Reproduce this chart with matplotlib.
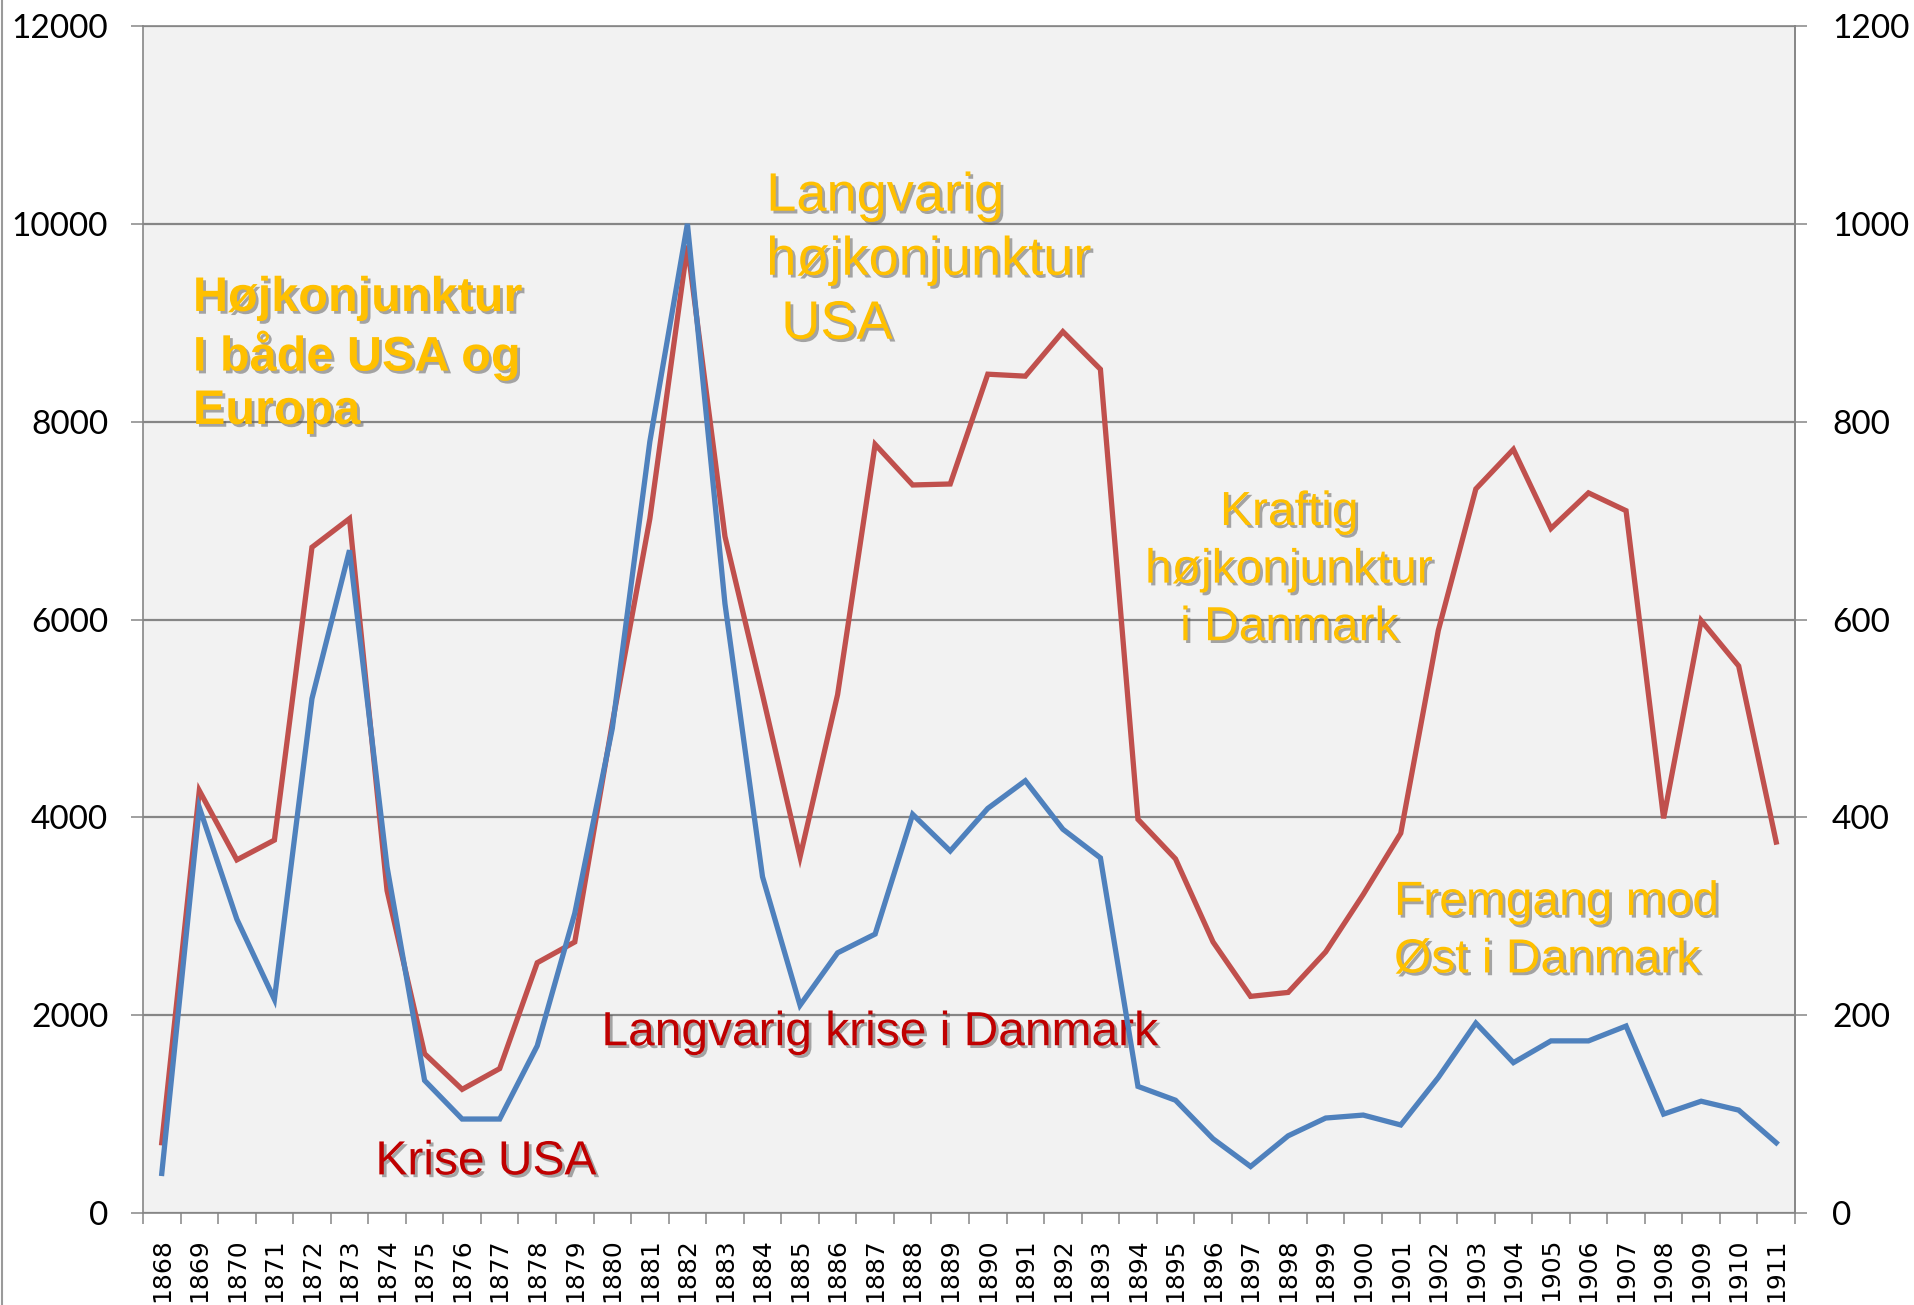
import matplotlib
matplotlib.use("Agg")
import matplotlib.pyplot as plt
import matplotlib.patheffects as pe
from matplotlib.lines import Line2D
import numpy as np

plt.rcParams['font.family'] = ['Liberation Sans', 'DejaVu Sans']

years = list(range(1868, 1912))

# red series, left axis (0-12000)
red_left = [710, 4270, 3570, 3770, 6730, 7020, 3260, 1610, 1250, 1460,
            2530, 2740, 4950, 7020, 9780, 6840, 5240, 3600, 5240, 7770,
            7360, 7370, 8480, 8460, 8910, 8530, 3980, 3580, 2740, 2190,
            2230, 2640, 3220, 3840, 5890, 7320, 7720, 6920, 7280, 7100,
            3990, 5990, 5530, 3750]

# blue series, right axis (0-1200)
blue_right = [40, 410, 297, 216, 520, 670, 350, 134, 95, 95,
              169, 303, 490, 780, 1000, 616, 340, 210, 263, 282,
              403, 366, 409, 437, 388, 359, 128, 114, 75, 47,
              78, 96, 99, 89, 137, 192, 152, 174, 174, 189,
              100, 113, 104, 71]

left_ticks = [0, 2000, 4000, 6000, 8000, 10000, 12000]
right_ticks = [0, 200, 400, 600, 800, 1000, 1200]

BLUE = "#4F81BD"
RED = "#C0504D"
GOLD = "#FFC000"
DARKRED = "#C00000"
GRID = "#868686"

W, H = 1915, 1305
fig = plt.figure(figsize=(W / 100, H / 100), dpi=100)
ax = fig.add_axes([143 / W, 1 - 1213 / H, (1795 - 143) / W, (1213 - 26) / H])
ax.set_facecolor("#F2F2F2")

x = np.arange(len(years))
ax.plot(x, red_left, color=RED, lw=3.8, solid_joinstyle='miter', zorder=2)
ax.set_xlim(-0.5, len(years) - 0.5)
ax.set_ylim(0, 12000)
ax.set_yticks(left_ticks)
ax.yaxis.grid(True, color=GRID, lw=1.6)
ax.set_axisbelow(True)

ax2 = ax.twinx()
ax2.plot(x, blue_right, color=BLUE, lw=3.8, solid_joinstyle='miter')
ax2.set_ylim(0, 1200)
ax2.set_yticks(right_ticks)

# category axis: labels at centres, tick marks between categories
ax.set_xticks(x)
ax.set_xticklabels([str(y) for y in years], rotation=90,
                   fontfamily='DejaVu Sans', fontsize=18)
ax.set_xticks(np.arange(-0.5, len(years), 1), minor=True)
ax.tick_params(axis='x', which='major', length=0, pad=18)
ax.tick_params(axis='x', which='minor', length=8, width=1.1, color=GRID)

ax.tick_params(axis='y', length=8.6, width=1.1, color=GRID, pad=16.5,
               labelsize=24)
ax2.tick_params(axis='y', length=8.6, width=1.1, color=GRID, pad=18,
                labelsize=24)
for lab in ax.get_yticklabels() + ax2.get_yticklabels():
    lab.set_fontfamily('Lato')

for a in (ax, ax2):
    for s in a.spines.values():
        s.set_color(GRID)
        s.set_linewidth(1.2)
for side in ('left', 'bottom', 'top'):
    ax2.spines[side].set_visible(False)

shadow = [pe.withSimplePatchShadow(offset=(2, -2), shadow_rgbFace='#555555',
                                   alpha=0.5)]

# x, y, text, colour, size, weight, alignment, line spacing
notes = [
    (0.83, 9473, "Højkonjunktur\nI både USA og\nEuropa", GOLD, 35, 'bold', 'left', 1.24),
    (16.1, 10527, "Langvarig\nhøjkonjunktur\n USA", GOLD, 39, 'normal', 'left', 1.36),
    (30.03, 7309, "Kraftig\nhøjkonjunktur\ni Danmark", GOLD, 34.5, 'normal', 'center', 1.36),
    (32.82, 3368, "Fremgang mod\nØst i Danmark", GOLD, 34.5, 'normal', 'left', 1.36),
    (11.71, 2050, "Langvarig krise i Danmark", DARKRED, 34.5, 'normal', 'left', 1.36),
    (5.69, 744, "Krise USA", DARKRED, 34.5, 'normal', 'left', 1.36),
]
for nx, ny, txt, col, size, weight, ha, ls in notes:
    ax.text(nx, ny, txt, color=col, fontsize=size, fontweight=weight,
            ha=ha, va='top', multialignment=ha, linespacing=ls,
            path_effects=shadow, zorder=3)

# thin frame line down the left edge
fig.add_artist(Line2D([0.0008, 0.0008], [0, 1], transform=fig.transFigure,
                      color='#9A9A9A', lw=1.5))

fig.savefig("out.png", dpi=100, facecolor='white')
